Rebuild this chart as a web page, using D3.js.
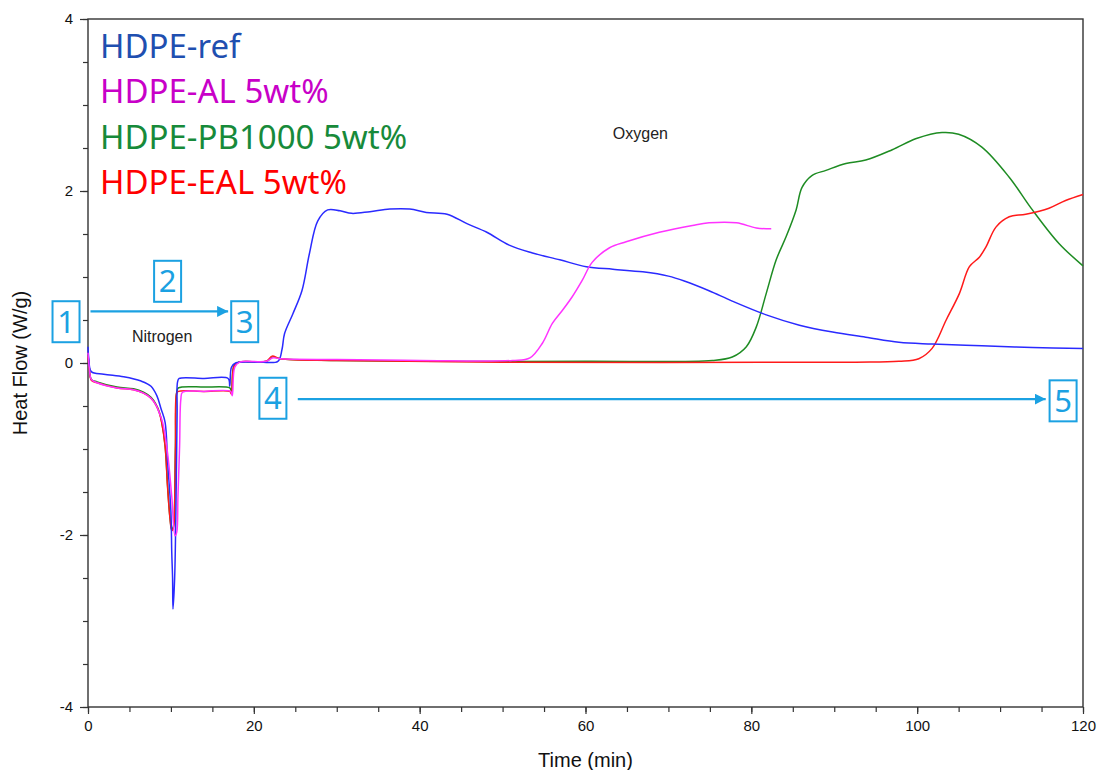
<!DOCTYPE html>
<html>
<head>
<meta charset="utf-8">
<script src="https://cdn.jsdelivr.net/npm/d3@7"></script>
<style>
  body { margin: 0; background: #fff; }
  svg { display: block; }
</style>
</head>
<body>
<svg id="chart" width="1101" height="770"></svg>
<script>
// Values: [time (min), heat flow (W/g)]
const hdpeRef = [[0,0.19],[0.1,0.05],[0.4,-0.1],[1.9,-0.13],[4.3,-0.16],[6.4,-0.21],[7.6,-0.27],[8.3,-0.38],[8.8,-0.53],[9.3,-0.69],[9.6,-1.15],[10.0,-1.73],[10.1,-2.2],[10.2,-2.5],[10.25,-2.86],[10.45,-2.5],[10.65,-1.35],[10.75,-0.57],[10.8,-0.22],[11.0,-0.18],[14,-0.18],[16.9,-0.18],[17.1,-0.27],[17.3,-0.05],[17.8,0.0],[20.7,0.01],[22.9,0.02],[23.4,0.16],[23.7,0.34],[24.7,0.57],[25.8,0.84],[26.7,1.27],[27.7,1.65],[28.9,1.78],[30.4,1.77],[31.8,1.74],[34,1.76],[36.4,1.79],[38.8,1.79],[40.8,1.75],[43.3,1.73],[45.7,1.62],[48.1,1.52],[50.8,1.37],[53.6,1.28],[56.9,1.2],[60.1,1.12],[63.3,1.09],[66.9,1.06],[70,1.01],[72,0.95],[74.9,0.84],[77.7,0.72],[81.8,0.56],[85.8,0.44],[89.8,0.36],[93.8,0.3],[97.8,0.24],[101.8,0.22],[107.8,0.2],[113.9,0.18],[120,0.17]];

const hdpeAl = [[0,0.12],[0.15,-0.05],[0.4,-0.19],[1.1,-0.23],[3.5,-0.29],[5.5,-0.31],[6.7,-0.35],[7.6,-0.41],[8.2,-0.49],[8.6,-0.58],[9.0,-0.69],[9.6,-1.05],[10.1,-1.55],[10.5,-2.01],[10.7,-1.97],[10.85,-1.55],[11.05,-0.96],[11.2,-0.42],[11.4,-0.34],[14,-0.33],[17.2,-0.33],[17.4,-0.38],[17.7,-0.05],[18.3,0.01],[21.5,0.02],[22.3,0.06],[23.2,0.05],[30,0.04],[40,0.03],[51.2,0.03],[53.3,0.06],[54.8,0.23],[56,0.46],[57.2,0.61],[58.4,0.77],[59.6,0.96],[60.8,1.17],[62.9,1.34],[64.9,1.41],[68.9,1.52],[72.9,1.6],[74.9,1.63],[78.2,1.63],[80.6,1.57],[82.4,1.56]];

const hdpePb = [[0,0.1],[0.15,-0.05],[0.4,-0.19],[1.1,-0.22],[3.5,-0.28],[5.5,-0.3],[6.7,-0.34],[7.6,-0.4],[8.2,-0.48],[8.6,-0.57],[8.9,-0.69],[9.3,-0.96],[9.6,-1.43],[9.9,-1.81],[10.1,-1.93],[10.3,-1.9],[10.4,-1.8],[10.55,-0.96],[10.7,-0.34],[10.9,-0.29],[14,-0.28],[17.1,-0.29],[17.3,-0.33],[17.6,-0.03],[18.2,0.01],[21.5,0.02],[22.3,0.07],[23.2,0.05],[30,0.03],[40,0.02],[60,0.02],[75.3,0.03],[77.7,0.07],[79.4,0.19],[80.6,0.42],[81.8,0.81],[83,1.2],[84.2,1.47],[85.4,1.78],[86.1,2.04],[87.3,2.18],[89,2.24],[91.4,2.32],[93.8,2.36],[97,2.48],[99.9,2.61],[103,2.68],[105,2.66],[107.8,2.51],[111.1,2.16],[113.9,1.78],[117.1,1.39],[120,1.13]];

const hdpeEal = [[0,0.08],[0.15,-0.05],[0.4,-0.2],[1.1,-0.23],[3.5,-0.29],[5.5,-0.31],[6.7,-0.35],[7.6,-0.41],[8.2,-0.49],[8.6,-0.58],[8.9,-0.7],[9.3,-0.97],[9.6,-1.45],[9.9,-1.82],[10.1,-1.95],[10.3,-1.92],[10.4,-1.82],[10.55,-0.97],[10.7,-0.35],[10.9,-0.33],[14,-0.33],[17.1,-0.33],[17.3,-0.36],[17.6,-0.04],[18.2,0.01],[21.5,0.02],[22.2,0.08],[23.2,0.05],[30,0.03],[50,0.01],[92.6,0.01],[97.8,0.02],[100.2,0.05],[101.8,0.17],[103.5,0.5],[105.1,0.81],[106.3,1.12],[107.5,1.23],[108.3,1.35],[109.5,1.58],[111.1,1.7],[113.1,1.73],[115.9,1.8],[117.9,1.89],[120,1.96]];

const seriesNames = ['HDPE-ref', 'HDPE-AL 5wt%', 'HDPE-PB1000 5wt%', 'HDPE-EAL 5wt%'];
const xTicks = [0, 20, 40, 60, 80, 100, 120];
const yTicks = [-4, -2, 0, 2, 4];

// Numbered step markers, placed in data units
const steps = [
    {label: '1', t: -2.65, v: 0.48},
    {label: '2', t: 9.6, v: 0.95},
    {label: '3', t: 18.9, v: 0.48},
    {label: '4', t: 22.3, v: -0.41},
    {label: '5', t: 117.6, v: -0.44}
];

const margin = {top: 19, right: 18, bottom: 63, left: 88};
const width = 1101 - margin.left - margin.right;
const height = 770 - margin.top - margin.bottom;

const svg = d3.select('#chart');
const g = svg.append('g').attr('transform', `translate(${margin.left},${margin.top})`);

const x = d3.scaleLinear().domain([0, 120]).range([0, width]);
const y = d3.scaleLinear().domain([-4, 4]).range([height, 0]);

const axisFont = '"Liberation Sans", Arial, sans-serif';
const plain = d => String(d);   // keep the plain hyphen for negatives

// minor ticks first, then major ones with labels
g.append('g')
    .attr('transform', `translate(0,${height})`)
    .call(d3.axisBottom(x).tickValues(d3.range(0, 121, 5)).tickSize(5).tickFormat(''))
    .call(a => a.select('.domain').remove());
g.append('g')
    .attr('transform', `translate(0,${height})`)
    .call(d3.axisBottom(x).tickValues(xTicks).tickSize(7).tickPadding(6).tickFormat(plain))
    .call(a => a.select('.domain').remove())
    .selectAll('text').style('font', `15px ${axisFont}`).attr('fill', '#111');

g.append('g')
    .call(d3.axisLeft(y).tickValues(d3.range(-4, 4.01, 0.5)).tickSize(5).tickFormat(''))
    .call(a => a.select('.domain').remove());
g.append('g')
    .call(d3.axisLeft(y).tickValues(yTicks).tickSize(8).tickPadding(7).tickFormat(plain))
    .call(a => a.select('.domain').remove())
    .selectAll('text').style('font', `15px ${axisFont}`).attr('fill', '#111');

g.selectAll('.tick line').attr('stroke', '#333').attr('stroke-width', 1.2);

// plot frame
g.append('rect')
    .attr('width', width)
    .attr('height', height)
    .attr('fill', 'none')
    .attr('stroke', '#333')
    .attr('stroke-width', 1.4);

const line = d3.line()
    .x(d => x(d[0]))
    .y(d => y(d[1]))
    .curve(d3.curveCatmullRom.alpha(0.5));

const curves = [
    {data: hdpePb, color: '#1e8c23'},
    {data: hdpeEal, color: '#ff1a1a'},
    {data: hdpeRef, color: '#2a2aff'},
    {data: hdpeAl, color: '#ff33ff'}
];

g.append('g').selectAll('path')
    .data(curves)
    .enter().append('path')
    .attr('d', d => line(d.data))
    .attr('fill', 'none')
    .attr('stroke', d => d.color)
    .attr('stroke-width', 1.5);

// legend as coloured text
const legendColors = ['#1f4fb0', '#c800c8', '#178a3a', '#ff0000'];
g.append('g').selectAll('text')
    .data(seriesNames)
    .enter().append('text')
    .attr('x', 12)
    .attr('y', (d, i) => 39 + i * 45.3)
    .attr('fill', (d, i) => legendColors[i])
    .style('font', '33px "Noto Sans", "Open Sans", sans-serif')
    .text(d => d);

// gas labels
g.append('text').attr('x', x(5.3)).attr('y', y(0.24))
    .style('font', `16px ${axisFont}`).attr('fill', '#222').text('Nitrogen');
g.append('text').attr('x', x(63.3)).attr('y', y(2.6))
    .style('font', `16px ${axisFont}`).attr('fill', '#222').text('Oxygen');

// arrows between steps
const blue = '#1ba1e2';
svg.append('defs').append('marker')
    .attr('id', 'head')
    .attr('viewBox', '0 0 10 10')
    .attr('refX', 10).attr('refY', 5)
    .attr('markerWidth', 5).attr('markerHeight', 5)
    .attr('orient', 'auto')
    .append('path').attr('d', 'M0,0L10,5L0,10Z').attr('fill', blue);

const arrows = [[0.3, 16.9, 0.6], [25.3, 115.5, -0.42]];
g.selectAll('.arrow')
    .data(arrows)
    .enter().append('line')
    .attr('class', 'arrow')
    .attr('x1', d => x(d[0])).attr('x2', d => x(d[1]))
    .attr('y1', d => y(d[2])).attr('y2', d => y(d[2]))
    .attr('stroke', blue)
    .attr('stroke-width', 2.2)
    .attr('marker-end', 'url(#head)');

const stepG = g.selectAll('.step')
    .data(steps)
    .enter().append('g')
    .attr('class', 'step')
    .attr('transform', d => `translate(${x(d.t)},${y(d.v)})`);
stepG.append('rect')
    .attr('x', -13.5).attr('y', -20.5)
    .attr('width', 27).attr('height', 41)
    .attr('fill', '#fff')
    .attr('stroke', blue)
    .attr('stroke-width', 2);
stepG.append('text')
    .attr('text-anchor', 'middle')
    .attr('y', 11)
    .attr('fill', blue)
    .style('font', '31px "Noto Sans", "Open Sans", sans-serif')
    .text(d => d.label);

// axis titles
svg.append('text')
    .attr('transform', `translate(27,${margin.top + y(0)}) rotate(-90)`)
    .attr('text-anchor', 'middle')
    .style('font', `20px ${axisFont}`)
    .attr('fill', '#111')
    .text('Heat Flow (W/g)');
svg.append('text')
    .attr('x', margin.left + width / 2)
    .attr('y', 767)
    .attr('text-anchor', 'middle')
    .style('font', `20px ${axisFont}`)
    .attr('fill', '#111')
    .text('Time (min)');
</script>
</body>
</html>
